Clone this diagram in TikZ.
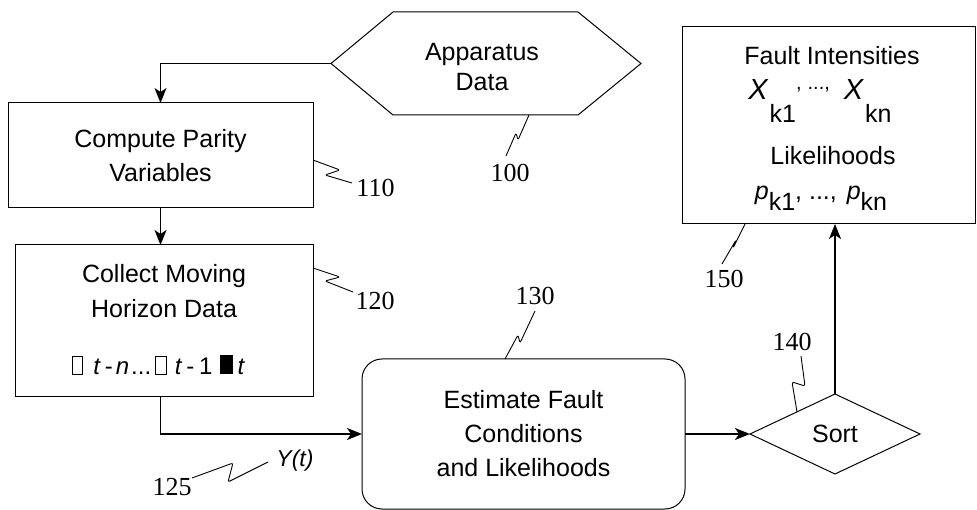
\documentclass[tikz,border=0pt]{standalone}
\usepackage{fontspec}
\setmainfont{Liberation Sans}
\newfontfamily\labfont{Liberation Serif}
\usetikzlibrary{arrows.meta,shapes.geometric,calc}
\newcommand\opensq{{\setlength{\fboxsep}{0pt}\setlength{\fboxrule}{1pt}\fbox{\rule{0pt}{17pt}\rule{9.5pt}{0pt}}}}
\newcommand\fullsq{\rule{13pt}{19pt}}
\begin{document}
\begin{tikzpicture}[x=1pt,y=-1pt,
  every node/.style={inner sep=0pt, outer sep=0pt},
  box/.style={draw, line width=1pt, rectangle},
  txt/.style={font=\fontsize{25}{34}\selectfont, align=center},
  num/.style={font=\labfont\fontsize{26}{26}\selectfont, anchor=base},
  lead/.style={line width=0.9pt, line join=round, rounded corners=2pt},
  flow/.style={line width=1.8pt, -{Stealth[length=15pt,width=12pt,inset=4pt]}},
]
\useasboundingbox (0,0) rectangle (977,510);

% Apparatus data (hexagon)
\node[txt, font=\fontsize{25}{30}\selectfont] (hex) at (482,67) {Apparatus\\Data};
\coordinate (hexL) at (331,63.5);
\draw[line width=1pt] (hexL) -- (393,12) -- (578,12) -- (641,63.5) -- (578,115) -- (393,115) -- cycle;

% boxes
\node[box, txt, minimum width=305pt, minimum height=105pt] (b110) at (160.5,155.5) {Compute Parity\\Variables};
\node[box, minimum width=298pt, minimum height=151pt] (b120) at (164,320.5) {};
\node[txt, anchor=base] (t120a) at (164,283) {Collect Moving};
\node[txt, anchor=base] (t120b) at (164,318) {Horizon Data};
\node[txt, anchor=base, font=\fontsize{24}{24}\selectfont] (t120c) at (158.5,374)
  {\opensq\hspace{10pt}\textit{t}\hspace{4pt}-\hspace{3pt}\textit{n}\hspace{2pt}...\hspace{4pt}\opensq\hspace{8pt}\textit{t}\hspace{4pt}-\hspace{5pt}1\hspace{7pt}\fullsq\hspace{5pt}\textit{t}};

\node[box, txt, rounded corners=20pt, minimum width=323pt, minimum height=150pt] (b130) at (523.5,434)
  {Estimate Fault\\Conditions\\and Likelihoods};

\node[draw, line width=1pt, diamond, aspect=2.125, minimum width=170pt, minimum height=80pt, txt] (sort) at (835,434) {Sort};

\node[box, minimum width=293pt, minimum height=197pt] (b150) at (828.5,125.5) {};
\node[txt, anchor=base] (f1) at (832,65) {Fault Intensities};
\node[txt, anchor=base] (f2) at (820,100)
  {{\fontsize{29}{29}\selectfont\textit{X}}\hspace{1pt}\raisebox{-23pt}{k1}\raisebox{10pt}{\fontsize{20}{20}\selectfont,\hspace{6pt}...,}\hspace{14pt}{\fontsize{29}{29}\selectfont\textit{X}}\hspace{1pt}\raisebox{-23pt}{kn}};
\node[txt, anchor=base] (f3) at (833,165) {Likelihoods};
\node[txt, anchor=base] (f4) at (821,200)
  {\textit{p}\raisebox{-11pt}{k1}, ..., \hspace{3pt}\textit{p}\raisebox{-11pt}{kn}};

% flow connectors
\draw[flow] (hexL) -| (b110.north);
\draw[flow] (b110.south) -- (b110.south |- b120.north);
\draw[flow] (b110.south |- b120.south) |- (b130.west);
\draw[flow] (b130.east) -- (sort.west);
\draw[flow] (sort.north) -- (sort.north |- b150.south);

% Y(t) label
\node[anchor=base, font=\fontsize{23}{23}\selectfont\itshape] (yt) at (295,466) {Y(t)};

% reference numerals and leaders
\node[num] (n110) at (375.5,197) {110};
\draw[lead] (b110.east |- 0,160) -- (340,170) -- (325,175) -- (352,183);
\node[num] (n120) at (375,310) {120};
\draw[lead] (b120.east |- 0,268) -- (340,277) -- (325,281) -- (353,292);
\node[num] (n100) at (510,182) {100};
\draw[lead] (529,115) -- (518,140) -- (516,133) -- (506,156);
\node[num] (n130) at (535,305) {130};
\draw[lead] (505,0 |- b130.north) -- (518,335) -- (520,343) -- (535,311);
\node[num] (n140) at (792,351) {140};
\draw[lead] ($(sort.west)!0.553!(sort.north)$) -- (792,382) -- (805,386) -- (801,356);
\node[num] (n150) at (724,288) {150};
\draw[lead] (745,0 |- b150.south) -- (733,248) -- (736,240) -- (722,264);
\node[num] (n125) at (172,495) {125};
\draw[lead] (192,478) -- (233,463) -- (228,482) -- (268,462);
\end{tikzpicture}
\end{document}
